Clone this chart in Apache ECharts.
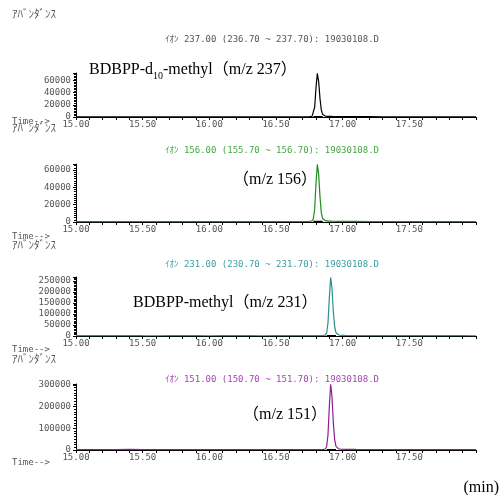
<!DOCTYPE html>
<html>
<head>
<meta charset="utf-8">
<script src="https://cdn.jsdelivr.net/npm/echarts@6/dist/echarts.min.js"></script>
<style>html,body{margin:0;padding:0;background:#fff}#main{width:500px;height:495px}</style>
</head>
<body>
<div id="main"></div>
<script>
// retention times (min) - panels 1,2 peak near 16.81, panels 3,4 near 16.91
var timesA = [15.0,15.1,15.2,15.3,15.4,15.5,15.6,15.7,15.8,15.9,16.0,16.1,16.2,16.3,16.4,16.5,16.6,16.7,
  16.75,16.77,16.78,16.79,16.80,16.81,16.82,16.83,16.84,16.85,16.86,16.87,16.89,16.92,16.96,
  17.0,17.1,17.2,17.3,17.4,17.5,17.6,17.7,17.8,17.9,18.0];
var timesB = [15.0,15.1,15.2,15.3,15.4,15.5,15.6,15.7,15.8,15.9,16.0,16.1,16.2,16.3,16.4,16.5,16.6,16.7,16.8,
  16.85,16.87,16.88,16.89,16.90,16.91,16.92,16.93,16.94,16.95,16.96,16.97,16.99,
  17.02,17.06,17.1,17.2,17.3,17.4,17.5,17.6,17.7,17.8,17.9,18.0];

var abund237 = [400,350,380,420,360,400,450,380,350,400,420,380,360,400,380,420,400,450,
  500,900,3500,16000,48000,71500,58000,30000,11000,4200,2200,1500,1100,900,750,
  650,550,500,450,420,400,380,400,380,360,350];
var abund156 = [500,450,480,520,600,550,500,480,520,550,500,480,520,500,480,520,550,600,
  700,1200,3800,15000,44000,66500,55000,29000,10500,4000,2100,1500,1100,900,800,
  700,650,600,580,550,520,500,480,500,480,460];
var abund231 = [1500,1400,1300,1400,1500,1300,1200,1300,1400,1300,1200,1300,1400,1300,1200,1300,1400,1300,1500,
  1800,4000,14000,60000,175000,266000,215000,110000,42000,15000,7000,4500,3000,
  2600,2200,2000,1800,1700,1600,1500,1400,1400,1300,1300,1200];
var abund151 = [1500,1600,1800,1700,2500,1800,1600,1500,1600,1500,1400,1500,1600,1500,1400,1500,1600,1700,1800,
  2000,4500,16000,70000,200000,303000,245000,125000,48000,17000,8000,5000,3500,
  3200,2800,2600,2400,2200,2000,1900,1800,1700,1600,1600,1500];

// integration baselines under each peak
var peakBaseStart = [16.78, 16.78, 16.88, 16.88];
var peakBaseEnd = [16.85, 16.85, 16.95, 16.95];
var peakBaseLevel = [400, 500, 1300, 1500];

var yMax = [72000, 67000, 268000, 304000];
var yStep = [20000, 20000, 50000, 100000];
var xTickLabels = ['15.00','15.50','16.00','16.50','17.00','17.50'];

var ionTitles = [
  'ｲｵﾝ 237.00 (236.70 ~ 237.70): 19030108.D',
  'ｲｵﾝ 156.00 (155.70 ~ 156.70): 19030108.D',
  'ｲｵﾝ 231.00 (230.70 ~ 231.70): 19030108.D',
  'ｲｵﾝ 151.00 (150.70 ~ 151.70): 19030108.D'
];
var compoundLabels = [
  '{a|BDBPP-d}{s|10}{a|-methyl（m/z 237）}',
  '{a|（m/z 156）}',
  '{a|BDBPP-methyl（m/z 231）}',
  '{a|（m/z 151）}'
];

var lineColors = ['#000000', '#1f8c1f', '#2a8f8f', '#8e1f8e'];
var titleColors = ['#555555', '#45a845', '#3e9e9e', '#a545b5'];

// layout
var gridTop = [73, 164, 277, 384];
var gridH = [44, 58, 59, 66];
var titleY = [40, 151, 265, 380];
var abundY = [15, 129, 246, 360];
var timeY = [122, 237, 350, 463];
var labelPos = [[89, 70], [233, 180], [133, 303], [243, 415]];

var MONO = '"DejaVu Sans Mono", "Noto Sans CJK JP", monospace';
var SERIF = '"Liberation Serif", "Noto Sans CJK JP", serif';

var myChart = echarts.init(document.getElementById('main'));

var allTimes = [timesA, timesA, timesB, timesB];
var allAbund = [abund237, abund156, abund231, abund151];

var grids = [], xAxes = [], yAxes = [], series = [], graphics = [];
for (var i = 0; i < 4; i++) {
  grids.push({left: 76, top: gridTop[i], width: 400, height: gridH[i], outerBoundsMode: 'none'});
  xAxes.push({
    type: 'value', gridIndex: i, min: 15, max: 18, interval: 0.1,
    axisLine: {show: true, onZero: false, lineStyle: {color: '#000', width: 1}},
    axisTick: {show: true, length: 3, lineStyle: {color: '#000'}},
    splitLine: {show: false},
    axisLabel: {
      margin: 3, fontSize: 9, fontFamily: MONO, color: '#555',
      showMaxLabel: true, showMinLabel: true, hideOverlap: false,
      formatter: function (v) {
        var s = v.toFixed(2);
        return xTickLabels.indexOf(s) >= 0 ? s : '';
      }
    }
  });
  (function (step) {
    yAxes.push({
      type: 'value', gridIndex: i, min: 0, max: yMax[i], interval: step,
      axisLine: {show: true, lineStyle: {color: '#000', width: 1}},
      axisTick: {show: true, length: 3, lineStyle: {color: '#000'}},
      minorTick: {show: true, splitNumber: 8, length: 2, lineStyle: {color: '#000', width: 1}},
      splitLine: {show: false},
      axisLabel: {
        margin: 5, fontSize: 9, fontFamily: MONO, color: '#555',
        showMaxLabel: true, hideOverlap: false,
        formatter: function (v) { return v % step === 0 ? String(v) : ''; }
      }
    });
  })(yStep[i]);

  var t = allTimes[i], a = allAbund[i], pts = [];
  for (var k = 0; k < t.length; k++) pts.push([t[k], a[k]]);
  series.push({
    type: 'line', xAxisIndex: i, yAxisIndex: i, data: pts,
    showSymbol: false, smooth: false, silent: true,
    lineStyle: {color: lineColors[i], width: 1.2}, itemStyle: {color: lineColors[i]}, z: 3
  });
  series.push({
    type: 'line', xAxisIndex: i, yAxisIndex: i,
    data: [[peakBaseStart[i], peakBaseLevel[i]], [peakBaseEnd[i], peakBaseLevel[i]]],
    showSymbol: false, silent: true,
    lineStyle: {color: '#000', width: 1.5}, z: 2
  });

  graphics.push({type: 'text', x: 12, y: abundY[i], style: {text: 'ｱﾊﾞﾝﾀﾞﾝｽ', fontSize: 11, fontFamily: MONO, fill: '#555', align: 'left', verticalAlign: 'middle'}});
  graphics.push({type: 'text', x: 12, y: timeY[i], style: {text: 'Time-->', fontSize: 9, fontFamily: MONO, fill: '#555', align: 'left', verticalAlign: 'middle'}});
  graphics.push({type: 'text', x: 272, y: titleY[i], style: {text: ionTitles[i], fontSize: 9, fontFamily: MONO, fill: titleColors[i], align: 'center', verticalAlign: 'middle'}});
  graphics.push({type: 'text', x: labelPos[i][0], y: labelPos[i][1], style: {
    text: compoundLabels[i], align: 'left', verticalAlign: 'middle', fill: '#000',
    rich: {
      a: {fontSize: 16, fontFamily: SERIF, color: '#000', lineHeight: 22, verticalAlign: 'middle'},
      s: {fontSize: 10, fontFamily: SERIF, color: '#000', lineHeight: 22, verticalAlign: 'bottom'}
    }
  }});
}
graphics.push({type: 'text', x: 499, y: 488, style: {text: '(min)', fontSize: 16, fontFamily: SERIF, fill: '#000', align: 'right', verticalAlign: 'middle'}});

option = {
  animation: false,
  backgroundColor: '#fff',
  grid: grids,
  xAxis: xAxes,
  yAxis: yAxes,
  series: series,
  graphic: graphics
};
myChart.setOption(option);
</script>
</body>
</html>
